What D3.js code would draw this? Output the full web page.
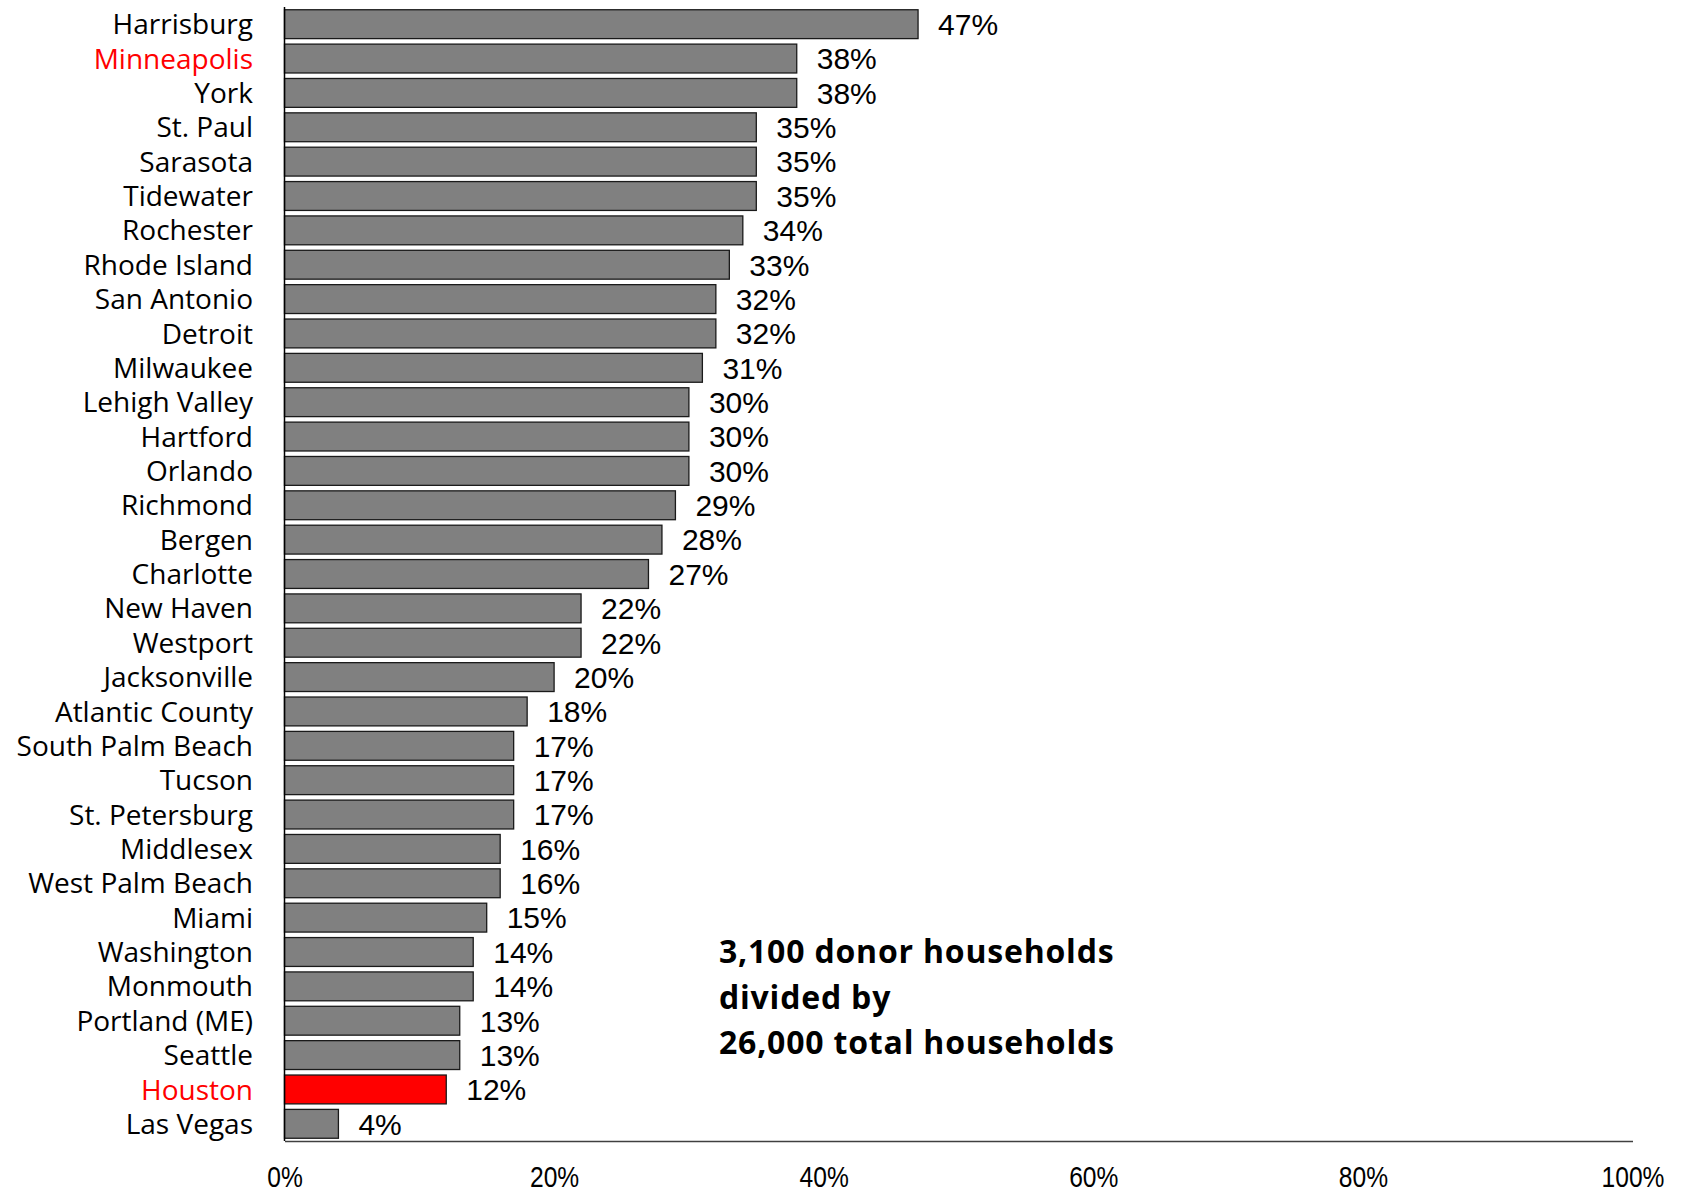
<!DOCTYPE html>
<html>
<head>
<meta charset="utf-8">
<script src="https://cdn.jsdelivr.net/npm/d3@7"></script>
<style>
  html, body { margin: 0; padding: 0; background: #fff; }
  svg { display: block; }
</style>
</head>
<body>
<svg id="chart" width="1684" height="1194"></svg>
<script>
const categories = ["Harrisburg","Minneapolis","York","St. Paul","Sarasota","Tidewater","Rochester","Rhode Island","San Antonio","Detroit","Milwaukee","Lehigh Valley","Hartford","Orlando","Richmond","Bergen","Charlotte","New Haven","Westport","Jacksonville","Atlantic County","South Palm Beach","Tucson","St. Petersburg","Middlesex","West Palm Beach","Miami","Washington","Monmouth","Portland (ME)","Seattle","Houston","Las Vegas"];
const values = [47,38,38,35,35,35,34,33,32,32,31,30,30,30,29,28,27,22,22,20,18,17,17,17,16,16,15,14,14,13,13,12,4];
const highlighted = ["Minneapolis","Houston"];
const redBars = ["Houston"];
const xTicks = [0,20,40,60,80,100];
const annotationLines = ["3,100 donor households","divided by","26,000 total households"];

const svg = d3.select("#chart");
const x = d3.scaleLinear().domain([0,100]).range([284.5,1632.5]);
const y = d3.scaleBand().domain(categories).range([7,1141]).paddingInner(0.16).paddingOuter(0.08);

const data = categories.map((c,i)=>({c, v: values[i]}));

// bars
svg.append("g").selectAll("rect").data(data).join("rect")
  .attr("x", x(0))
  .attr("y", d=>y(d.c))
  .attr("width", d=>x(d.v)-x(0))
  .attr("height", y.bandwidth())
  .attr("fill", d=>redBars.includes(d.c) ? "#ff0000" : "#808080")
  .attr("stroke", "#1a1a1a")
  .attr("stroke-width", 1.3);

// category labels
svg.append("g").selectAll("text").data(data).join("text")
  .attr("x", 253)
  .attr("y", d=>y(d.c)+y.bandwidth()/2)
  .attr("dy","0.36em")
  .attr("text-anchor","end")
  .attr("font-family","'Open Sans', sans-serif")
  .attr("font-size", 28)
  .attr("fill", d=>highlighted.includes(d.c) ? "#ff0000" : "#000")
  .text(d=>d.c);

// value labels
svg.append("g").selectAll("text").data(data).join("text")
  .attr("x", d=>x(d.v)+20)
  .attr("y", d=>y(d.c)+y.bandwidth()/2)
  .attr("dy","0.36em")
  .attr("font-family","'Liberation Sans', Arial, sans-serif")
  .attr("font-size", 30)
  .attr("fill","#000")
  .text(d=>d.v+"%");

// axes lines
svg.append("line")
  .attr("x1", x(0)).attr("x2", x(0))
  .attr("y1", 7).attr("y2", 1141)
  .attr("stroke","#000").attr("stroke-width",1.5);
const xAxis = d3.axisBottom(x).tickValues(xTicks).tickSize(0).tickPadding(25).tickFormat(d=>d+"%");
const gx = svg.append("g").attr("transform","translate(0,1141)").call(xAxis);
gx.select(".domain").attr("stroke","#404040").attr("stroke-width",1.5);
gx.selectAll("text")
  .attr("font-family","'Liberation Sans', Arial, sans-serif")
  .attr("font-size", 30)
  .attr("transform","scale(0.82,1)")
  .attr("fill","#000");

// annotation
svg.append("g").selectAll("text").data(annotationLines).join("text")
  .attr("x", 719)
  .attr("y", (d,i)=>963 + i*45.5)
  .attr("font-family","'Open Sans', sans-serif")
  .attr("font-weight","bold")
  .attr("font-size", 32)
  .attr("letter-spacing", 0.8)
  .attr("fill","#000")
  .text(d=>d);
</script>
</body>
</html>
